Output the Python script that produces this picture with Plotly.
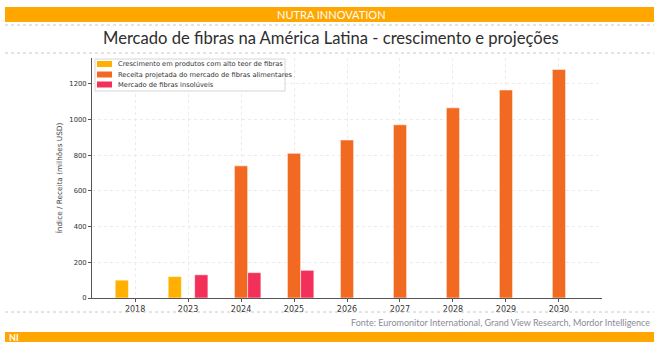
import plotly.graph_objects as go

years = ["2018", "2023", "2024", "2025", "2026", "2027", "2028", "2029", "2030"]
crescimento = [100, 120, None, None, None, None, None, None, None]
receita = [None, None, 740, 810, 885, 970, 1065, 1165, 1280]
insoluveis = [None, 130, 142, 155, None, None, None, None, None]

names = [
    "Crescimento em produtos com alto teor de fibras",
    "Receita projetada do mercado de fibras alimentares",
    "Mercado de fibras insolúveis",
]
colors = ["#FFB000", "#F26A21", "#F2305A"]
series = [crescimento, receita, insoluveis]
offsets = [-0.375, -0.125, 0.125]

xs = list(range(len(years)))
fig = go.Figure()
for name, vals, col, off in zip(names, series, colors, offsets):
    fig.add_trace(go.Bar(
        x=xs, y=vals, name=name, width=0.25, offset=off, showlegend=False,
        marker=dict(color=col, line=dict(color="rgba(255,255,255,0.55)", width=1)),
    ))

W, H = 659, 350
L, R, T, B = 92, 602, 58, 298

fig.update_layout(
    width=W, height=H, barmode="overlay",
    margin=dict(l=L, r=W - R, t=T, b=H - B),
    paper_bgcolor="white", plot_bgcolor="white",
    font=dict(family="DejaVu Sans", size=8, color="#333"),
    showlegend=False,
    xaxis=dict(range=[-0.8125, 8.8125], tickvals=xs, ticktext=years,
               showline=True, linecolor="#555", linewidth=1,
               ticks="outside", ticklen=3, tickcolor="#555",
               showgrid=True, gridcolor="#ebebeb", griddash="dot", gridwidth=1,
               zeroline=False, tickfont=dict(size=8, color="#333")),
    yaxis=dict(range=[0, 1344], tickvals=[0, 200, 400, 600, 800, 1000, 1200],
               showline=True, linecolor="#555", linewidth=1,
               ticks="outside", ticklen=3, tickcolor="#555",
               showgrid=True, gridcolor="#ebebeb", griddash="dot", gridwidth=1,
               zeroline=False, tickfont=dict(size=6.8, color="#333"),
               title=dict(text="Índice / Receita (milhões USD)", font=dict(size=7.3, color="#444"), standoff=5)),
)

def px(x):
    return (x - L) / (R - L)

def py(y):
    return (B - y) / (B - T)

shapes = [
    dict(type="rect", xref="paper", yref="paper", x0=px(5), x1=px(654), y0=py(22), y1=py(7),
         fillcolor="#FFA600", line=dict(width=0), layer="above"),
    dict(type="rect", xref="paper", yref="paper", x0=px(5), x1=px(654), y0=py(342), y1=py(332),
         fillcolor="#FFA600", line=dict(width=0), layer="above"),
]
for yl in [25, 53, 312]:
    shapes.append(dict(type="line", xref="paper", yref="paper", x0=px(5), x1=px(654), y0=py(yl), y1=py(yl),
                       line=dict(color="#c8c8c8", width=1, dash="dot")))

# legend box (manual, to match compact spacing)
shapes.append(dict(type="rect", xref="paper", yref="paper", x0=px(95), x1=px(285), y0=py(91), y1=py(59),
                   fillcolor="rgba(255,255,255,0.85)", line=dict(color="#d6d6d6", width=1), layer="above"))
leg_y = [64, 74.5, 84.5]
for name, col, ly in zip(names, colors, leg_y):
    shapes.append(dict(type="rect", xref="paper", yref="paper", x0=px(97), x1=px(112), y0=py(ly + 3), y1=py(ly - 3),
                       fillcolor=col, line=dict(width=0), layer="above"))
    fig.add_annotation(text=name, xref="paper", yref="paper", x=px(116), y=py(ly), showarrow=False,
                       font=dict(family="DejaVu Sans", size=6.7, color="#333"), xanchor="left", yanchor="middle")
fig.update_layout(shapes=shapes)

fig.add_annotation(text="NUTRA INNOVATION", xref="paper", yref="paper", x=px(331), y=py(14.5),
                   showarrow=False, font=dict(family="Lato", size=11, color="white"), xanchor="center", yanchor="middle")
fig.add_annotation(text="Mercado de fibras na América Latina - crescimento e projeções", xref="paper", yref="paper",
                   x=px(331), y=py(38.5), showarrow=False,
                   font=dict(family="Lato", size=16.6, color="#2e2e2e"), xanchor="center", yanchor="middle")
fig.add_annotation(text="Fonte: Euromonitor International, Grand View Research, Mordor Intelligence", xref="paper", yref="paper",
                   x=px(652), y=py(322.5), showarrow=False,
                   font=dict(family="Lato", size=9, color="#8c8a98"), xanchor="right", yanchor="middle")
fig.add_annotation(text="<b>NI</b>", xref="paper", yref="paper", x=px(7), y=py(337), showarrow=False,
                   font=dict(family="Lato", size=9, color="white"), xanchor="left", yanchor="middle")

fig.write_html("out.html")
